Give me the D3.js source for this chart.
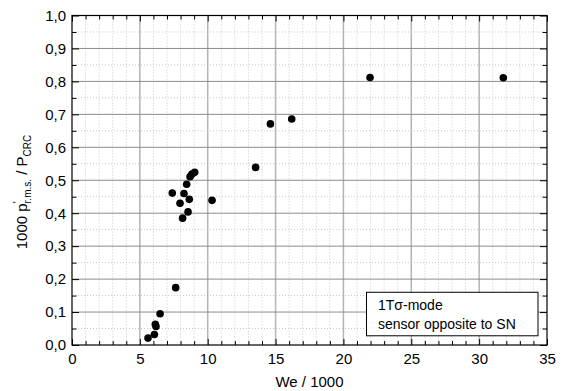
<!DOCTYPE html>
<html>
<head>
<meta charset="utf-8">
<script src="https://cdn.jsdelivr.net/npm/d3@7"></script>
<style>
  body { margin: 0; background: #fff; }
  svg { font-family: "Liberation Sans", Arial, sans-serif; }
</style>
</head>
<body>
<div id="chart"></div>
<script>
// We / 1000 and 1000 p'/P_CRC
var weValues = [5.6, 6.07, 6.14, 6.19, 6.49, 7.64,
                7.39, 8.25, 7.96, 8.64, 8.55, 8.15, 8.45, 8.7, 8.84, 9.04,
                10.32, 13.53, 14.62, 16.19, 21.96, 31.78];
var pValues = [0.021, 0.032, 0.063, 0.056, 0.095, 0.174,
               0.461, 0.46, 0.43, 0.442, 0.404, 0.385, 0.488, 0.511, 0.519, 0.524,
               0.439, 0.539, 0.671, 0.686, 0.812, 0.811];
var xTicks = [0, 5, 10, 15, 20, 25, 30, 35];
var yTicks = [0, 0.1, 0.2, 0.3, 0.4, 0.5, 0.6, 0.7, 0.8, 0.9, 1.0];
var xMinor = d3.range(0, 36, 1).filter(v => v % 5 !== 0);
var yMinor = d3.range(0.05, 1, 0.1);
var legendLines = ["1T\u03c3-mode", "sensor opposite to SN"];

var width = 563, height = 391;
var margin = {top: 15.5, right: 16, bottom: 46, left: 72};
var inW = width - margin.left - margin.right;
var inH = height - margin.top - margin.bottom;

var svg = d3.select("#chart").append("svg")
  .attr("width", width)
  .attr("height", height);
var g = svg.append("g")
  .attr("transform", `translate(${margin.left},${margin.top})`);

var x = d3.scaleLinear().domain([0, 35]).range([0, inW]);
var y = d3.scaleLinear().domain([0, 1]).range([inH, 0]);

var comma = d3.formatLocale({decimal: ",", thousands: ".", grouping: [3], currency: ["", ""]});
var fmtY = comma.format(".1f");

// minor grid (dotted)
g.append("g").selectAll("line.vx").data(xMinor).enter().append("line")
  .attr("x1", d => x(d)).attr("x2", d => x(d))
  .attr("y1", 0).attr("y2", inH)
  .attr("stroke", "#c8c8c8").attr("stroke-dasharray", "1,2");
g.append("g").selectAll("line.hy").data(yMinor).enter().append("line")
  .attr("x1", 0).attr("x2", inW)
  .attr("y1", d => y(d)).attr("y2", d => y(d))
  .attr("stroke", "#c8c8c8").attr("stroke-dasharray", "1,2");

// major grid
g.append("g").selectAll("line").data(xTicks.slice(1, -1)).enter().append("line")
  .attr("x1", d => x(d)).attr("x2", d => x(d))
  .attr("y1", 0).attr("y2", inH)
  .attr("stroke", "#b4b4b4").attr("stroke-width", 1.5);
g.append("g").selectAll("line").data(yTicks.slice(1, -1)).enter().append("line")
  .attr("x1", 0).attr("x2", inW)
  .attr("y1", d => y(d)).attr("y2", d => y(d))
  .attr("stroke", "#8c8c8c").attr("stroke-width", 1);

// axes, ticks pointing inward
function styleAxis(sel) {
  sel.select(".domain").remove();
  sel.selectAll("text").attr("font-size", 15).attr("fill", "#000")
    .attr("font-family", '"Liberation Sans", Arial, sans-serif');
  sel.selectAll("line").attr("stroke", "#000");
}
g.append("g").attr("transform", `translate(0,${inH})`)
  .call(d3.axisBottom(x).tickValues(xTicks).tickSizeInner(-6).tickSizeOuter(0).tickPadding(8))
  .call(styleAxis);
g.append("g").attr("transform", `translate(0,${inH})`)
  .call(d3.axisBottom(x).tickValues(xMinor).tickSizeInner(-4).tickSizeOuter(0).tickFormat(""))
  .call(styleAxis);
g.append("g")
  .call(d3.axisTop(x).tickValues(xTicks).tickSizeInner(-6).tickSizeOuter(0).tickFormat(""))
  .call(styleAxis);
g.append("g")
  .call(d3.axisTop(x).tickValues(xMinor).tickSizeInner(-4).tickSizeOuter(0).tickFormat(""))
  .call(styleAxis);
g.append("g")
  .call(d3.axisLeft(y).tickValues(yTicks).tickSizeInner(-7).tickSizeOuter(0).tickPadding(6).tickFormat(fmtY))
  .call(styleAxis);
g.append("g")
  .call(d3.axisLeft(y).tickValues(yMinor).tickSizeInner(-4.5).tickSizeOuter(0).tickFormat(""))
  .call(styleAxis);
g.append("g").attr("transform", `translate(${inW},0)`)
  .call(d3.axisRight(y).tickValues(yTicks).tickSizeInner(-7).tickSizeOuter(0).tickFormat(""))
  .call(styleAxis);
g.append("g").attr("transform", `translate(${inW},0)`)
  .call(d3.axisRight(y).tickValues(yMinor).tickSizeInner(-4.5).tickSizeOuter(0).tickFormat(""))
  .call(styleAxis);

// frame
g.append("rect")
  .attr("width", inW).attr("height", inH)
  .attr("fill", "none").attr("stroke", "#000").attr("stroke-width", 1.2);

// points
g.append("g").selectAll("circle")
  .data(weValues.map((d, i) => [d, pValues[i]]))
  .enter().append("circle")
    .attr("cx", d => x(d[0]))
    .attr("cy", d => y(d[1]))
    .attr("r", 3.8)
    .attr("fill", "#000");

// legend box
var leg = g.append("g").attr("transform", `translate(${x(21.7)},${y(0.16)})`);
leg.append("rect")
  .attr("width", 171.5).attr("height", 43.5)
  .attr("fill", "#fff").attr("stroke", "#000").attr("stroke-width", 1);
leg.selectAll("text").data(legendLines).enter().append("text")
  .attr("x", 11.5)
  .attr("y", (d, i) => 18 + i * 19)
  .attr("font-size", 14)
  .text(d => d);

// axis titles
svg.append("text")
  .attr("x", margin.left + inW / 2)
  .attr("y", 387)
  .attr("text-anchor", "middle")
  .attr("font-size", 15)
  .text("We / 1000");

var yt = svg.append("text")
  .attr("transform", "translate(27,192) rotate(-90)")
  .attr("text-anchor", "middle")
  .attr("font-size", 15);
yt.append("tspan").text("1000 p");
yt.append("tspan").attr("font-size", 10).attr("dy", -6).text("'");
yt.append("tspan").attr("font-size", 10).attr("dy", 10).attr("dx", -2).text("r.m.s.");
yt.append("tspan").attr("dy", -4).text(" / P");
yt.append("tspan").attr("font-size", 10).attr("dy", 4).text("CRC");
</script>
</body>
</html>
